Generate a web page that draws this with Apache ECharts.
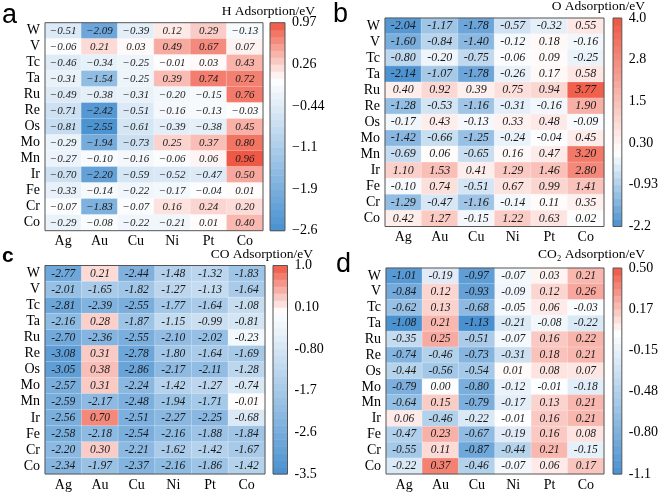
<!DOCTYPE html>
<html>
<head>
<meta charset="utf-8">
<script src="https://cdn.jsdelivr.net/npm/echarts@6/dist/echarts.min.js"></script>
<style>
html,body{margin:0;padding:0;background:#fff;}
#chart{width:661px;height:494px;}
</style>
</head>
<body>
<div id="chart"></div>
<script>
// ---------- data ----------
const rowLabels = ['W','V','Tc','Ta','Ru','Re','Os','Mo','Mn','Ir','Fe','Cr','Co'];
const colLabels = ['Ag','Au','Cu','Ni','Pt','Co'];

const hValues = [
  [-0.51,-2.09,-0.39, 0.12, 0.29,-0.13],
  [-0.06, 0.21, 0.03, 0.49, 0.67, 0.07],
  [-0.46,-0.34,-0.25,-0.01, 0.03, 0.43],
  [-0.31,-1.54,-0.25, 0.39, 0.74, 0.72],
  [-0.49,-0.38,-0.31,-0.20,-0.15, 0.76],
  [-0.71,-2.42,-0.51,-0.16,-0.13,-0.03],
  [-0.81,-2.55,-0.61,-0.39,-0.38, 0.45],
  [-0.29,-1.94,-0.73, 0.25, 0.37, 0.80],
  [-0.27,-0.10,-0.16,-0.06, 0.06, 0.96],
  [-0.70,-2.20,-0.59,-0.52,-0.47, 0.50],
  [-0.33,-0.14,-0.22,-0.17,-0.04, 0.01],
  [-0.07,-1.83,-0.07, 0.16, 0.24, 0.20],
  [-0.29,-0.08,-0.22,-0.21, 0.01, 0.40]
];
const oValues = [
  [-2.04,-1.17,-1.78,-0.57,-0.32, 0.55],
  [-1.60,-0.84,-1.40,-0.12, 0.18,-0.16],
  [-0.80,-0.20,-0.75,-0.06, 0.09,-0.25],
  [-2.14,-1.07,-1.78,-0.26, 0.17, 0.58],
  [ 0.40, 0.92, 0.39, 0.75, 0.94, 3.77],
  [-1.28,-0.53,-1.16,-0.31,-0.16, 1.90],
  [-0.17, 0.43,-0.13, 0.33, 0.48,-0.09],
  [-1.42,-0.66,-1.25,-0.24,-0.04, 0.45],
  [-0.69, 0.06,-0.65, 0.16, 0.47, 3.20],
  [ 1.10, 1.53, 0.41, 1.29, 1.46, 2.80],
  [-0.10, 0.74,-0.51, 0.67, 0.99, 1.41],
  [-1.29,-0.47,-1.16,-0.14, 0.11, 0.35],
  [ 0.42, 1.27,-0.15, 1.22, 0.63, 0.02]
];
const coValues = [
  [-2.77, 0.21,-2.44,-1.48,-1.32,-1.83],
  [-2.01,-1.65,-1.82,-1.27,-1.13,-1.64],
  [-2.81,-2.39,-2.55,-1.77,-1.64,-1.08],
  [-2.16, 0.28,-1.87,-1.15,-0.99,-0.81],
  [-2.70,-2.36,-2.55,-2.10,-2.02,-0.23],
  [-3.08, 0.31,-2.78,-1.80,-1.64,-1.69],
  [-3.05, 0.38,-2.86,-2.17,-2.11,-1.28],
  [-2.57, 0.31,-2.24,-1.42,-1.27,-0.74],
  [-2.59,-2.17,-2.48,-1.94,-1.71,-0.01],
  [-2.56, 0.70,-2.51,-2.27,-2.25,-0.68],
  [-2.58,-2.18,-2.54,-2.16,-1.88,-1.84],
  [-2.20, 0.30,-2.21,-1.62,-1.42,-1.67],
  [-2.34,-1.97,-2.37,-2.16,-1.86,-1.42]
];
const co2Values = [
  [-1.01,-0.19,-0.97,-0.07, 0.03, 0.21],
  [-0.84, 0.12,-0.93,-0.09, 0.12, 0.26],
  [-0.62, 0.13,-0.68,-0.05, 0.06,-0.03],
  [-1.08, 0.21,-1.13,-0.21,-0.08,-0.22],
  [-0.35, 0.25,-0.51,-0.07, 0.16, 0.22],
  [-0.74,-0.46,-0.73,-0.31, 0.18, 0.21],
  [-0.44,-0.56,-0.54, 0.01, 0.08, 0.07],
  [-0.79, 0.00,-0.80,-0.12,-0.01,-0.18],
  [-0.64, 0.15,-0.79,-0.17, 0.13, 0.21],
  [ 0.06,-0.46,-0.22,-0.01, 0.16, 0.21],
  [-0.47, 0.23,-0.67,-0.19, 0.16, 0.08],
  [-0.55, 0.11,-0.87,-0.44, 0.21,-0.15],
  [-0.22, 0.37,-0.46,-0.07, 0.06, 0.17]
];

// colour-bar ranges and tick labels
const hRange = [-2.6, 0.97];
const hTickValues = [0.97, 0.256, -0.458, -1.172, -1.886, -2.6];
const hTickLabels = ['0.97', '0.26', '\u22120.44', '\u22121.1', '\u22121.9', '\u22122.6'];
const oRange = [-2.2, 4.0];
const oTickValues = [4.0, 2.76, 1.52, 0.28, -0.96, -2.2];
const oTickLabels = ['4.0', '2.8', '1.5', '0.30', '-0.93', '-2.2'];
const coRange = [-3.5, 1.0];
const coTickValues = [1.0, 0.1, -0.8, -1.7, -2.6, -3.5];
const coTickLabels = ['1.0', '0.10', '-0.80', '-1.7', '-2.6', '-3.5'];
const co2Range = [-1.1, 0.5];
const co2TickValues = [0.5, 0.18, -0.14, -0.46, -0.78, -1.1];
const co2TickLabels = ['0.50', '0.17', '-0.15', '-0.48', '-0.80', '-1.1'];

const titles = ['H Adsorption/eV', 'O Adsorption/eV', 'CO Adsorption/eV', 'CO\u2082 Adsorption/eV'];

// ---------- styling / layout ----------
const BLUE = [72, 144, 208];
const RED = [239, 86, 66];
const WHITE = [255, 255, 255];
const SERIF = "'Liberation Serif','Times New Roman',serif";

function mix(a, b, t) {
  t = Math.max(0, Math.min(1, t));
  const c = a.map((v, i) => Math.round(v + (b[i] - v) * t));
  return 'rgb(' + c.join(',') + ')';
}
function colorStops(min, max) {
  const K = 61, out = [];
  for (let k = 0; k < K; k++) {
    const v = min + (max - min) * k / (K - 1);
    out.push(v < 0 ? mix(WHITE, BLUE, v / min) : mix(WHITE, RED, v / max));
  }
  return out;
}

const panels = [
  {values: hValues, range: hRange, tv: hTickValues, tl: hTickLabels, minus: true, valFont: 11,
   grid: {left: 45, top: 22.7, width: 218, height: 208},
   bar: {left: 270, top: 22.7, width: 15, height: 208}},
  {values: oValues, range: oRange, tv: oTickValues, tl: oTickLabels, minus: false, valFont: 12,
   grid: {left: 385, top: 18, width: 219, height: 208.5},
   bar: {left: 613, top: 18, width: 15, height: 208.5}},
  {values: coValues, range: coRange, tv: coTickValues, tl: coTickLabels, minus: false, valFont: 11.5,
   grid: {left: 45, top: 265.5, width: 220, height: 208.5},
   bar: {left: 273, top: 265.5, width: 14.5, height: 208.5}},
  {values: co2Values, range: co2Range, tv: co2TickValues, tl: co2TickLabels, minus: false, valFont: 11.5,
   grid: {left: 386, top: 268, width: 218, height: 206},
   bar: {left: 613, top: 268, width: 14.5, height: 206}}
];

const grids = [], xAxes = [], yAxes = [], series = [], visualMaps = [];
const NB = 30;

panels.forEach((p, i) => {
  const gi = grids.length;
  grids.push(Object.assign({show: true, z: 10, borderColor: '#555', borderWidth: 1, backgroundColor: 'transparent'}, p.grid));
  grids.push(Object.assign({show: true, z: 10, borderColor: '#555', borderWidth: 1, backgroundColor: 'transparent'}, p.bar));

  xAxes.push({type: 'category', gridIndex: gi, data: colLabels,
    axisLine: {show: false}, axisTick: {show: false}, splitLine: {show: false},
    axisLabel: {interval: 0, color: '#000', fontFamily: SERIF, fontSize: 14, margin: 4}});
  yAxes.push({type: 'category', gridIndex: gi, data: rowLabels, inverse: true,
    axisLine: {show: false}, axisTick: {show: false}, splitLine: {show: false},
    axisLabel: {interval: 0, color: '#000', fontFamily: SERIF, fontSize: 14, margin: 5}});

  xAxes.push({type: 'value', gridIndex: gi + 1, min: 0, max: 1, show: false});
  const tv = p.tv, tl = p.tl;
  yAxes.push({type: 'value', gridIndex: gi + 1, min: p.range[0], max: p.range[1], position: 'right',
    axisLine: {show: false}, axisTick: {show: false}, splitLine: {show: false},
    axisLabel: {color: '#000', fontFamily: SERIF, fontSize: 14, margin: 7,
      showMinLabel: true, showMaxLabel: true,
      customValues: tv,
      formatter: function (v) {
        let best = 0;
        tv.forEach((t, k) => { if (Math.abs(t - v) < Math.abs(tv[best] - v)) best = k; });
        return tl[best];
      }}});

  const data = [];
  p.values.forEach((row, r) => row.forEach((v, c) => data.push([c, r, v])));
  const hmIdx = series.length;
  const minus = p.minus;
  series.push({type: 'heatmap', xAxisIndex: gi, yAxisIndex: gi, data: data,
    itemStyle: {borderColor: 'rgba(255,255,255,0.45)', borderWidth: 0.6},
    emphasis: {disabled: true},
    label: {show: true, color: '#1a1a1a', fontFamily: SERIF, fontStyle: 'italic', fontSize: p.valFont,
      formatter: function (q) {
        const s = q.value[2].toFixed(2);
        return minus ? s.replace('-', '\u2212') : s;
      }}});

  const bands = [];
  const lo = p.range[0], hi = p.range[1];
  for (let k = 0; k < NB; k++) {
    const a = lo + (hi - lo) * k / NB, b = lo + (hi - lo) * (k + 1) / NB;
    bands.push([a, b, (a + b) / 2]);
  }
  const barIdx = series.length;
  series.push({type: 'custom', xAxisIndex: gi + 1, yAxisIndex: gi + 1, data: bands, silent: true,
    renderItem: function (params, api) {
      const p1 = api.coord([0, api.value(1)]);
      const p2 = api.coord([1, api.value(0)]);
      return {type: 'rect', shape: {x: p1[0], y: p1[1], width: p2[0] - p1[0], height: p2[1] - p1[1] + 0.5},
        style: {fill: api.visual('color')}};
    }});

  visualMaps.push({type: 'continuous', show: false, min: lo, max: hi, dimension: 2,
    seriesIndex: [hmIdx, barIdx], inRange: {color: colorStops(lo, hi)}});
});

const titleStyle = {fontFamily: SERIF, fontSize: 13.5, fontWeight: 'normal', color: '#000'};
const letterStyle = {fontFamily: "'Liberation Sans',Arial,sans-serif", fontSize: 27, fontWeight: 'normal', color: '#000'};
const titleList = [
  {text: titles[0], right: 346, top: 4, padding: 0, textStyle: titleStyle},
  {text: titles[1], right: 16, top: -1, padding: 0, textStyle: titleStyle},
  {text: titles[2], right: 348, top: 247, padding: 0, textStyle: titleStyle},
  {text: titles[3], right: 16, top: 247, padding: 0, textStyle: titleStyle},
  {text: 'a', left: 2, top: 2, padding: 0, textStyle: letterStyle},
  {text: 'b', left: 333, top: 1, padding: 0, textStyle: letterStyle},
  {text: 'c', left: 2, top: 246, padding: 0, textStyle: Object.assign({}, letterStyle, {fontSize: 21, fontWeight: 'bold'})},
  {text: 'd', left: 336, top: 251, padding: 0, textStyle: letterStyle}
];

const chart = echarts.init(document.getElementById('chart'), null, {renderer: 'canvas'});
chart.setOption({
  backgroundColor: '#fff',
  animation: false,
  title: titleList,
  grid: grids,
  xAxis: xAxes,
  yAxis: yAxes,
  visualMap: visualMaps,
  series: series
});
</script>
</body>
</html>
